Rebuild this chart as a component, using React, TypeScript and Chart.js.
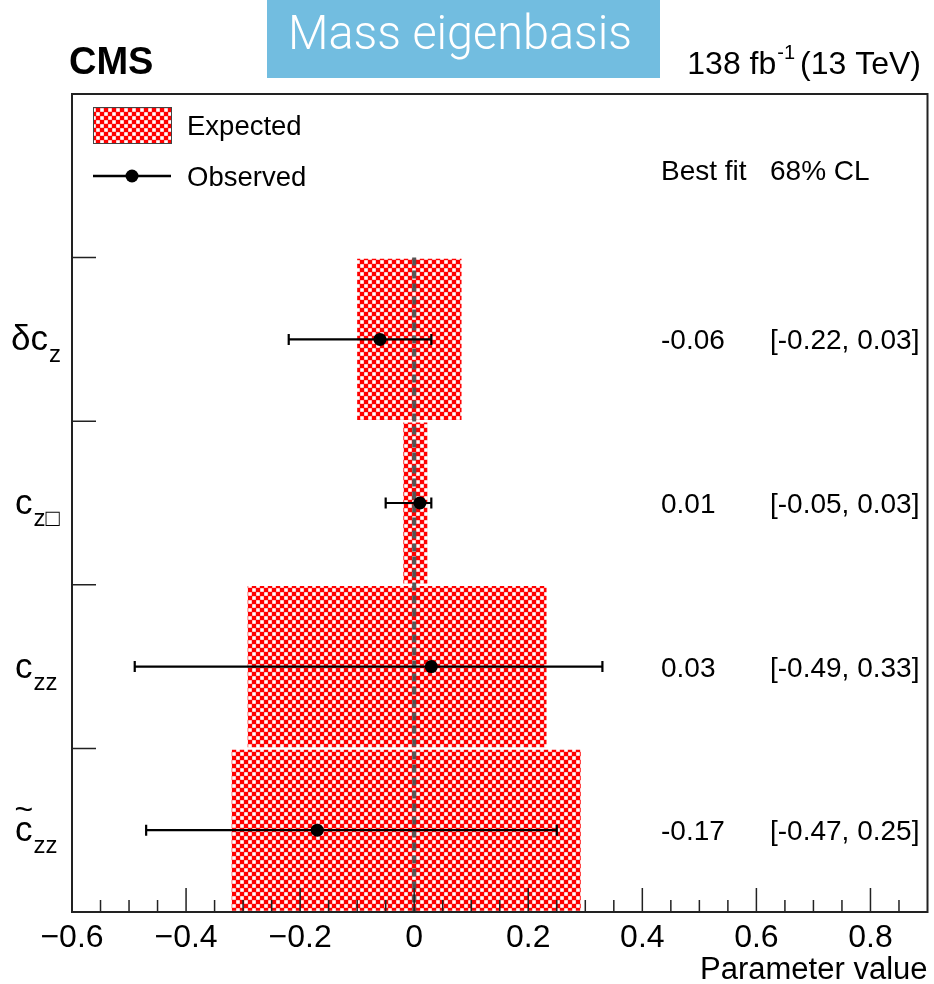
import React, { useEffect, useRef } from 'react';
import { Chart, registerables } from 'chart.js';

Chart.register(...registerables);

// ---- data ----
const rowMain = ['δc', 'c', 'c', 'c'];
const rowSub = ['z', 'z□', 'zz', 'zz'];
const rowTilde = [false, false, false, true];
const rowPositions = [3.5, 2.5, 1.5, 0.5];
const expectedLow = [-0.1, -0.019, -0.292, -0.32];
const expectedHigh = [0.083, 0.023, 0.232, 0.292];
const bestFit = [-0.06, 0.01, 0.03, -0.17];
const ciLow = [-0.22, -0.05, -0.49, -0.47];
const ciHigh = [0.03, 0.03, 0.33, 0.25];
const bestFitText = ['-0.06', '0.01', '0.03', '-0.17'];
const ciText = ['[-0.22, 0.03]', '[-0.05, 0.03]', '[-0.49, 0.33]', '[-0.47, 0.25]'];
const xMajorTicks = [-0.6, -0.4, -0.2, 0, 0.2, 0.4, 0.6, 0.8];
const xMinorTicks = [-0.55, -0.5, -0.45, -0.35, -0.3, -0.25, -0.15, -0.1, -0.05, 0.05, 0.1, 0.15, 0.25, 0.3, 0.35, 0.45, 0.5, 0.55, 0.65, 0.7, 0.75, 0.85];
const yBoundaryTicks = [1, 2, 3, 4];
const X_MIN = -0.6;
const X_MAX = 0.9;
const Y_MIN = 0;
const Y_MAX = 5;

const FONT = '"Liberation Sans", Arial, Helvetica, sans-serif';

function makePattern(): CanvasPattern | string {
  const c = document.createElement('canvas');
  c.width = 8;
  c.height = 8;
  const g = c.getContext('2d');
  if (!g) return '#ff0000';
  g.fillStyle = '#ff0000';
  g.fillRect(0, 0, 8, 8);
  g.fillStyle = '#ffffff';
  g.fillRect(0.2, 0.2, 3.6, 3.6);
  g.fillRect(4.2, 4.2, 3.6, 3.6);
  const p = g.createPattern(c, 'repeat');
  return p || '#ff0000';
}

export default function App() {
  const ref = useRef<HTMLCanvasElement | null>(null);

  useEffect(() => {
    const canvas = ref.current;
    if (!canvas) return;
    const pattern = makePattern();

    const overlay = {
      id: 'overlay',
      afterDatasetDraw(chart: any, args: any) {
        if (args.index !== 0) return;
        const { ctx } = chart;
        const x = chart.scales.x;
        const y = chart.scales.y;
        ctx.save();
        // dashed zero line
        const x0 = x.getPixelForValue(0);
        ctx.strokeStyle = '#555555';
        ctx.lineWidth = 4;
        ctx.setLineDash([8, 5]);
        ctx.beginPath();
        ctx.moveTo(x0, y.getPixelForValue(4));
        ctx.lineTo(x0, y.getPixelForValue(0));
        ctx.stroke();
        ctx.setLineDash([]);
        // error bars
        ctx.strokeStyle = '#000';
        ctx.lineWidth = 2.2;
        for (let i = 0; i < bestFit.length; i++) {
          const py = y.getPixelForValue(rowPositions[i]);
          const xl = x.getPixelForValue(ciLow[i]);
          const xh = x.getPixelForValue(ciHigh[i]);
          ctx.beginPath();
          ctx.moveTo(xl, py);
          ctx.lineTo(xh, py);
          ctx.moveTo(xl, py - 5.5);
          ctx.lineTo(xl, py + 5.5);
          ctx.moveTo(xh, py - 5.5);
          ctx.lineTo(xh, py + 5.5);
          ctx.stroke();
        }
        ctx.restore();
      },
      afterDraw(chart: any) {
        const { ctx, chartArea } = chart;
        const x = chart.scales.x;
        const y = chart.scales.y;
        const { left, right, top, bottom } = chartArea;
        ctx.save();
        // frame
        ctx.strokeStyle = '#222';
        ctx.lineWidth = 2;
        ctx.strokeRect(left, top, right - left, bottom - top);
        // x ticks (inside)
        ctx.lineWidth = 1.5;
        ctx.beginPath();
        for (const v of xMajorTicks) {
          const px = x.getPixelForValue(v);
          ctx.moveTo(px, bottom);
          ctx.lineTo(px, bottom - 24);
        }
        for (const v of xMinorTicks) {
          const px = x.getPixelForValue(v);
          ctx.moveTo(px, bottom);
          ctx.lineTo(px, bottom - 12);
        }
        // y ticks (inside)
        for (const v of yBoundaryTicks) {
          const py = y.getPixelForValue(v);
          ctx.moveTo(left, py);
          ctx.lineTo(left + 24, py);
        }
        ctx.stroke();

        // legend
        ctx.fillStyle = pattern as any;
        ctx.fillRect(93, 107, 78, 36);
        ctx.strokeStyle = '#444';
        ctx.lineWidth = 1;
        ctx.strokeRect(93.5, 107.5, 78, 36);
        ctx.strokeStyle = '#000';
        ctx.lineWidth = 2.5;
        ctx.beginPath();
        ctx.moveTo(93, 176);
        ctx.lineTo(171, 176);
        ctx.stroke();
        ctx.fillStyle = '#000';
        ctx.beginPath();
        ctx.arc(132, 176, 6.5, 0, Math.PI * 2);
        ctx.fill();
        ctx.font = `27.5px ${FONT}`;
        ctx.textAlign = 'left';
        ctx.textBaseline = 'alphabetic';
        ctx.fillText('Expected', 187, 135);
        ctx.fillText('Observed', 187, 186);

        // right column
        ctx.font = `28px ${FONT}`;
        ctx.fillText('Best fit', 661, 180);
        ctx.fillText('68% CL', 770, 180);
        for (let i = 0; i < bestFitText.length; i++) {
          const py = y.getPixelForValue(rowPositions[i]);
          ctx.fillText(bestFitText[i], 661, py + 10);
          ctx.fillText(ciText[i], 770, py + 10);
        }

        // y labels
        for (let i = 0; i < rowMain.length; i++) {
          const py = y.getPixelForValue(rowPositions[i]);
          ctx.font = `35px ${FONT}`;
          const lx = i === 0 ? 11 : 15;
          ctx.fillText(rowMain[i], lx, py + 11);
          const w = ctx.measureText(rowMain[i]).width;
          if (rowTilde[i]) {
            ctx.font = `32px ${FONT}`;
            ctx.textAlign = 'center';
            ctx.fillText('~', lx + w / 2, py - 10);
            ctx.textAlign = 'left';
          }
          ctx.font = `24px ${FONT}`;
          ctx.fillText(rowSub[i], lx + w + 1, py + 23);
        }

        // CMS
        ctx.font = `bold 38px ${FONT}`;
        ctx.fillText('CMS', 69, 74);
        // lumi
        const partA = '138 fb';
        const partC = '(13 TeV)';
        ctx.font = `32px ${FONT}`;
        const wA = ctx.measureText(partA).width;
        const wC = ctx.measureText(partC).width;
        ctx.font = `20px ${FONT}`;
        const wB = ctx.measureText('-1').width;
        const endX = 921;
        const startX = endX - wC - 5 - wB - 1 - wA;
        ctx.font = `32px ${FONT}`;
        ctx.fillText(partA, startX, 74);
        ctx.fillText(partC, endX - wC, 74);
        ctx.font = `20px ${FONT}`;
        ctx.fillText('-1', startX + wA + 1, 59);

        // title box
        ctx.fillStyle = '#72bde0';
        ctx.fillRect(267, 0, 393, 78);
        ctx.fillStyle = '#ffffff';
        ctx.font = `300 48px Roboto, ${FONT}`;
        const tw = ctx.measureText('Mass eigenbasis').width;
        const target = 344;
        ctx.save();
        ctx.translate(460, 49);
        ctx.scale(target / tw, 1);
        ctx.textAlign = 'center';
        ctx.fillText('Mass eigenbasis', 0, 0);
        ctx.restore();

        ctx.restore();
      },
    };

    const chart = new Chart(canvas, {
      type: 'bar',
      data: {
        datasets: [
          {
            type: 'bar',
            label: 'Expected',
            indexAxis: 'y',
            data: rowPositions.map((p, i) => ({ x: [expectedLow[i], expectedHigh[i]], y: p })),
            backgroundColor: pattern as any,
            borderWidth: 0,
            barPercentage: 0.985,
            categoryPercentage: 1,
            order: 2,
          } as any,
          {
            type: 'scatter',
            label: 'Observed',
            data: rowPositions.map((p, i) => ({ x: bestFit[i], y: p })),
            pointRadius: 6.5,
            pointBackgroundColor: '#000',
            pointBorderColor: '#000',
            pointBorderWidth: 0,
            showLine: false,
            order: 1,
          } as any,
        ],
      },
      options: {
        responsive: false,
        animation: false,
        events: [],
        layout: { padding: { left: 72, right: 3, top: 94, bottom: 0 } },
        plugins: { legend: { display: false }, tooltip: { enabled: false } },
        scales: {
          x: {
            type: 'linear',
            position: 'bottom',
            offset: false,
            min: X_MIN,
            max: X_MAX,
            grid: { display: false, drawTicks: false, offset: false },
            border: { display: false },
            afterBuildTicks: (s: any) => {
              s.ticks = xMajorTicks.map((v) => ({ value: v }));
            },
            afterFit: (s: any) => {
              s.height = 72;
            },
            ticks: {
              color: '#000',
              font: { size: 32, family: FONT },
              padding: 7,
              maxRotation: 0,
              autoSkip: false,
              callback: (v: any) => {
                const n = Number(v);
                if (Math.abs(n) < 1e-9) return '0';
                return (n < 0 ? '\u2212' : '') + Math.abs(n).toFixed(1);
              },
            },
            title: {
              display: true,
              text: 'Parameter value',
              align: 'end',
              color: '#000',
              font: { size: 31, family: FONT, lineHeight: 1 },
              padding: { top: 0, bottom: -2 },
            },
          },
          y: {
            type: 'linear',
            display: false,
            offset: false,
            grid: { offset: false },
            min: Y_MIN,
            max: Y_MAX,
            ticks: { stepSize: 1 },
          },
        },
      } as any,
      plugins: [overlay],
    });
    return () => chart.destroy();
  }, []);

  return (
    <div style={{ position: 'absolute', left: 0, top: 0, width: 934, height: 984, background: '#fff' }}>
      <canvas ref={ref} width={934} height={984} />
    </div>
  );
}
